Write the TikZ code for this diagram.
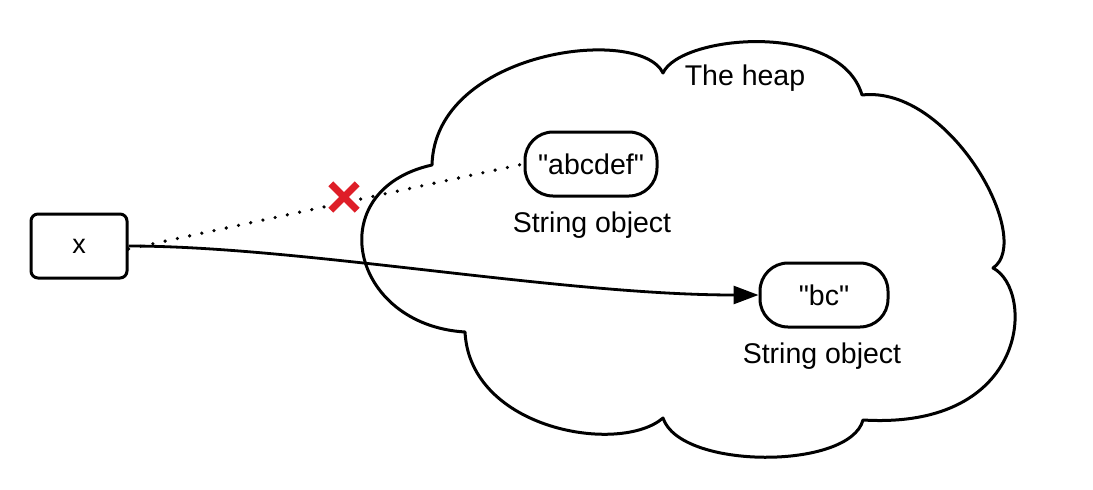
\documentclass[tikz,border=0pt]{standalone}
\usepackage{fontspec}
\setmainfont{Liberation Sans}
\newfontfamily\plainsans{Liberation Sans}
\usetikzlibrary{arrows.meta}
\definecolor{crossred}{RGB}{222,30,40}
\tikzset{
  outline/.style={line width=3pt, draw=black},
  varbox/.style={outline, rectangle, rounded corners=7pt, minimum width=96pt, minimum height=64pt, inner sep=0pt},
  strbox/.style={outline, rectangle, rounded corners=28pt, minimum height=64pt, inner sep=0pt, font=\plainsans\fontsize{28.5}{30}\selectfont},
  lbl/.style={inner sep=0pt, font=\fontsize{28.5}{30}\selectfont},
  reflink/.style={line width=2.8pt, -{Triangle[length=25pt,width=18pt]}},
  oldlink/.style={line width=3.6pt, line cap=round, dash pattern=on 0pt off 12.5pt},
  crossmark/.style={line width=7pt, draw=crossred}
}
\begin{document}
\begin{tikzpicture}[x=1pt,y=-1pt]
\useasboundingbox (0,0) rectangle (1093,490);
% the heap cloud
\draw[outline, line join=round]
  (432,165) .. controls (435,50) and (640,25) .. (663,73)
  .. controls (680,35) and (840,20) .. (862,95)
  .. controls (950,85) and (1035,240) .. (993,268)
  .. controls (1035,290) and (1030,430) .. (863,420)
  .. controls (850,470) and (680,470) .. (663,418)
  .. controls (620,455) and (470,430) .. (465,332)
  .. controls (350,325) and (320,190) .. (432,165) -- cycle;
\node[lbl] (heap) at (745,78) {The heap};
% nodes
\node[varbox] (x) at (79,246) {\fontsize{27}{28}\selectfont x};
\node[strbox, minimum width=132pt] (s1) at (591,164) {"abcdef"};
\node[lbl] (s1l) at (592,225) {String object};
\node[strbox, minimum width=128pt] (s2) at (824,295) {"bc"};
\node[lbl] (s2l) at (822,356) {String object};
% connectors
\draw[oldlink] ([yshift=-3pt]x.east) -- (s1.west);
\draw[reflink] (x.east) .. controls (300,246) and (560,295) .. (s2.west);
% red cross
\node[inner sep=0pt, minimum size=26pt] (cross) at (344,197) {};
\draw[crossmark] (cross.north west) -- (cross.south east);
\draw[crossmark] (cross.north east) -- (cross.south west);
\end{tikzpicture}
\end{document}
